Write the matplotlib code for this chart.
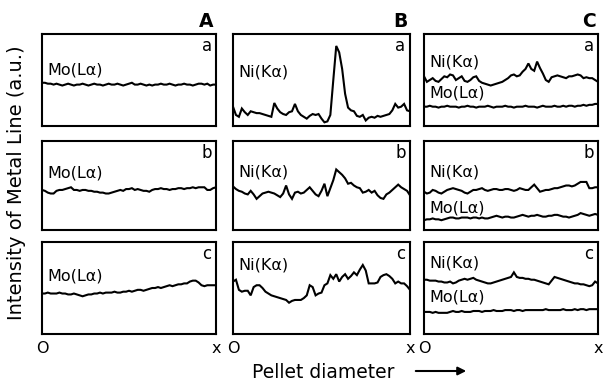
import numpy as np
import matplotlib
matplotlib.use("Agg")
import matplotlib.pyplot as plt

# ---------------------------------------------------------------------------
# Line-scan data (relative intensity, 0 = panel bottom, 1 = panel top)
# 61 samples across the pellet diameter, O -> x
# ---------------------------------------------------------------------------
n_pts = 61

a_a_mo = [0.47, 0.47, 0.46, 0.46, 0.45, 0.46, 0.45, 0.44, 0.45, 0.46,
          0.45, 0.44, 0.45, 0.45, 0.46, 0.45, 0.44, 0.45, 0.46, 0.45,
          0.45, 0.44, 0.45, 0.46, 0.45, 0.45, 0.46, 0.45, 0.44, 0.45,
          0.46, 0.47, 0.45, 0.45, 0.46, 0.45, 0.44, 0.45, 0.44, 0.45,
          0.45, 0.46, 0.45, 0.45, 0.46, 0.45, 0.44, 0.45, 0.45, 0.46,
          0.45, 0.45, 0.44, 0.45, 0.46, 0.46, 0.45, 0.46, 0.44, 0.45,
          0.45]

a_b_mo = [0.45, 0.44, 0.42, 0.41, 0.41, 0.44, 0.45, 0.45, 0.46, 0.47,
          0.48, 0.45, 0.45, 0.44, 0.45, 0.45, 0.44, 0.44, 0.43, 0.43,
          0.42, 0.42, 0.41, 0.41, 0.42, 0.43, 0.44, 0.45, 0.44, 0.46,
          0.46, 0.47, 0.45, 0.46, 0.45, 0.44, 0.44, 0.43, 0.45, 0.46,
          0.46, 0.47, 0.46, 0.46, 0.45, 0.46, 0.46, 0.47, 0.47, 0.46,
          0.47, 0.47, 0.48, 0.47, 0.48, 0.48, 0.48, 0.45, 0.45, 0.47,
          0.48]

a_c_mo = [0.44, 0.44, 0.45, 0.44, 0.44, 0.44, 0.45, 0.44, 0.44, 0.43,
          0.43, 0.44, 0.43, 0.42, 0.41, 0.42, 0.43, 0.43, 0.44, 0.44,
          0.45, 0.44, 0.45, 0.45, 0.45, 0.46, 0.45, 0.45, 0.46, 0.46,
          0.47, 0.46, 0.47, 0.48, 0.48, 0.47, 0.48, 0.49, 0.50, 0.50,
          0.51, 0.50, 0.51, 0.52, 0.53, 0.52, 0.53, 0.54, 0.54, 0.55,
          0.55, 0.57, 0.58, 0.58, 0.56, 0.53, 0.52, 0.53, 0.53, 0.53,
          0.53]

b_a_ni = [0.21, 0.12, 0.10, 0.19, 0.15, 0.12, 0.16, 0.15, 0.14, 0.14,
          0.13, 0.12, 0.11, 0.10, 0.25, 0.19, 0.15, 0.13, 0.12, 0.15,
          0.16, 0.24, 0.16, 0.12, 0.10, 0.08, 0.11, 0.13, 0.12, 0.13,
          0.08, 0.04, 0.05, 0.12, 0.50, 0.87, 0.80, 0.62, 0.35, 0.20,
          0.17, 0.16, 0.11, 0.10, 0.12, 0.06, 0.09, 0.10, 0.09, 0.11,
          0.10, 0.11, 0.12, 0.13, 0.17, 0.24, 0.20, 0.21, 0.24, 0.17,
          0.16]

b_b_ni = [0.49, 0.46, 0.44, 0.43, 0.41, 0.40, 0.44, 0.40, 0.35, 0.38,
          0.41, 0.42, 0.43, 0.42, 0.41, 0.39, 0.37, 0.41, 0.50, 0.40,
          0.35, 0.42, 0.43, 0.41, 0.42, 0.45, 0.48, 0.44, 0.40, 0.38,
          0.44, 0.52, 0.38, 0.47, 0.56, 0.68, 0.65, 0.62, 0.58, 0.52,
          0.53, 0.50, 0.48, 0.47, 0.42, 0.43, 0.45, 0.42, 0.44, 0.39,
          0.36, 0.35, 0.40, 0.42, 0.45, 0.48, 0.51, 0.48, 0.46, 0.44,
          0.39]

b_c_ni = [0.57, 0.59, 0.48, 0.46, 0.47, 0.47, 0.42, 0.51, 0.53, 0.53,
          0.50, 0.46, 0.44, 0.42, 0.41, 0.40, 0.39, 0.38, 0.37, 0.34,
          0.36, 0.37, 0.37, 0.37, 0.39, 0.42, 0.53, 0.51, 0.42, 0.44,
          0.45, 0.53, 0.55, 0.64, 0.60, 0.65, 0.57, 0.62, 0.65, 0.60,
          0.63, 0.67, 0.64, 0.70, 0.75, 0.69, 0.55, 0.55, 0.55, 0.56,
          0.62, 0.64, 0.65, 0.63, 0.60, 0.55, 0.57, 0.55, 0.55, 0.52,
          0.48]

c_a_ni = [0.54, 0.48, 0.50, 0.52, 0.49, 0.48, 0.51, 0.54, 0.53, 0.56,
          0.55, 0.50, 0.52, 0.54, 0.49, 0.48, 0.50, 0.53, 0.54, 0.49,
          0.47, 0.46, 0.45, 0.44, 0.45, 0.46, 0.47, 0.48, 0.50, 0.52,
          0.55, 0.56, 0.54, 0.55, 0.59, 0.62, 0.68, 0.62, 0.60, 0.70,
          0.63, 0.57, 0.50, 0.48, 0.53, 0.54, 0.55, 0.54, 0.53, 0.52,
          0.54, 0.54, 0.55, 0.56, 0.55, 0.52, 0.53, 0.52, 0.52, 0.50,
          0.48]

c_a_mo = [0.21, 0.21, 0.22, 0.21, 0.21, 0.20, 0.21, 0.21, 0.22, 0.21,
          0.21, 0.21, 0.20, 0.21, 0.21, 0.22, 0.21, 0.21, 0.20, 0.21,
          0.21, 0.21, 0.22, 0.21, 0.20, 0.21, 0.21, 0.21, 0.22, 0.21,
          0.21, 0.20, 0.21, 0.21, 0.21, 0.22, 0.21, 0.21, 0.21, 0.20,
          0.21, 0.22, 0.21, 0.21, 0.21, 0.22, 0.21, 0.21, 0.22, 0.21,
          0.22, 0.22, 0.21, 0.22, 0.22, 0.23, 0.22, 0.23, 0.23, 0.24,
          0.24]

c_b_ni = [0.43, 0.41, 0.42, 0.45, 0.44, 0.42, 0.41, 0.43, 0.45, 0.46,
          0.47, 0.46, 0.45, 0.44, 0.42, 0.41, 0.43, 0.45, 0.45, 0.46,
          0.47, 0.45, 0.44, 0.45, 0.46, 0.46, 0.45, 0.45, 0.46, 0.46,
          0.45, 0.44, 0.45, 0.47, 0.46, 0.45, 0.45, 0.48, 0.51, 0.47,
          0.43, 0.44, 0.45, 0.45, 0.46, 0.47, 0.47, 0.48, 0.49, 0.50,
          0.50, 0.49, 0.50, 0.52, 0.54, 0.54, 0.54, 0.47, 0.47, 0.48,
          0.48]

c_b_mo = [0.11, 0.12, 0.12, 0.13, 0.12, 0.12, 0.11, 0.12, 0.13, 0.14,
          0.14, 0.13, 0.13, 0.14, 0.14, 0.14, 0.13, 0.14, 0.14, 0.13,
          0.14, 0.13, 0.13, 0.14, 0.15, 0.16, 0.15, 0.14, 0.15, 0.15,
          0.14, 0.14, 0.15, 0.16, 0.17, 0.16, 0.15, 0.16, 0.16, 0.17,
          0.16, 0.15, 0.15, 0.16, 0.16, 0.17, 0.17, 0.16, 0.15, 0.15,
          0.14, 0.15, 0.16, 0.17, 0.19, 0.18, 0.17, 0.16, 0.17, 0.18,
          0.17]

c_c_ni = [0.59, 0.59, 0.58, 0.58, 0.58, 0.57, 0.57, 0.56, 0.56, 0.57,
          0.55, 0.56, 0.58, 0.59, 0.60, 0.59, 0.60, 0.61, 0.59, 0.58,
          0.57, 0.56, 0.55, 0.55, 0.56, 0.57, 0.58, 0.59, 0.60, 0.61,
          0.62, 0.67, 0.62, 0.61, 0.61, 0.60, 0.60, 0.59, 0.59, 0.58,
          0.57, 0.56, 0.55, 0.54, 0.58, 0.62, 0.61, 0.60, 0.59, 0.58,
          0.57, 0.56, 0.55, 0.55, 0.54, 0.54, 0.53, 0.52, 0.53, 0.57,
          0.55]

c_c_mo = [0.24, 0.24, 0.24, 0.23, 0.24, 0.23, 0.23, 0.23, 0.23, 0.24,
          0.25, 0.24, 0.24, 0.25, 0.24, 0.24, 0.24, 0.25, 0.25, 0.25,
          0.24, 0.25, 0.25, 0.25, 0.26, 0.25, 0.25, 0.25, 0.26, 0.26,
          0.26, 0.25, 0.26, 0.26, 0.25, 0.26, 0.26, 0.26, 0.26, 0.26,
          0.26, 0.26, 0.27, 0.26, 0.26, 0.26, 0.26, 0.26, 0.27, 0.26,
          0.26, 0.26, 0.27, 0.26, 0.27, 0.27, 0.26, 0.27, 0.27, 0.27,
          0.27]

col_names = ["A", "B", "C"]
row_names = ["a", "b", "c"]
x_tick_labels = ["O", "x"]

# per panel: list of (series, label, label_y) -- label_y in axes fraction
panels = {
    (0, 0): [(a_a_mo, "Mo(Lα)", 0.61)],
    (1, 0): [(a_b_mo, "Mo(Lα)", 0.64)],
    (2, 0): [(a_c_mo, "Mo(Lα)", 0.63)],
    (0, 1): [(b_a_ni, "Ni(Kα)", 0.59)],
    (1, 1): [(b_b_ni, "Ni(Kα)", 0.65)],
    (2, 1): [(b_c_ni, "Ni(Kα)", 0.75)],
    (0, 2): [(c_a_ni, "Ni(Kα)", 0.70), (c_a_mo, "Mo(Lα)", 0.36)],
    (1, 2): [(c_b_ni, "Ni(Kα)", 0.65), (c_b_mo, "Mo(Lα)", 0.25)],
    (2, 2): [(c_c_ni, "Ni(Kα)", 0.77), (c_c_mo, "Mo(Lα)", 0.40)],
}

# ---------------------------------------------------------------------------
# Layout (pixels on a 604x386 canvas)
# ---------------------------------------------------------------------------
W, H = 604, 386
col_left = [42, 233, 424]
col_width = [174, 177, 174]
row_top = [34, 141, 242]
row_bottom = [126, 230, 334]

fig = plt.figure(figsize=(W / 100, H / 100), dpi=100)
x = np.linspace(0, 1, n_pts)

for r in range(3):
    for c in range(3):
        rect = [col_left[c] / W, 1 - row_bottom[r] / H,
                col_width[c] / W, (row_bottom[r] - row_top[r]) / H]
        ax = fig.add_axes(rect)
        for series, label, ly in panels[(r, c)]:
            ax.plot(x, series, color="black", lw=1.5, solid_joinstyle="miter")
            ax.text(0.03, ly, label, transform=ax.transAxes, fontsize=11.5,
                    ha="left", va="center")
        ax.text(0.975, 0.87, row_names[r], transform=ax.transAxes,
                fontsize=12, ha="right", va="center")
        ax.set_xlim(0, 1)
        ax.set_ylim(0, 1)
        ax.set_yticks([])
        if r == 2:
            ax.set_xticks([0, 1])
            ax.set_xticklabels(x_tick_labels, fontsize=11.5)
            ax.tick_params(axis="x", length=0, pad=5)
        else:
            ax.set_xticks([])
        for sp in ax.spines.values():
            sp.set_linewidth(1.5)
        if r == 0:
            ax.text(0.985, 1.03, col_names[c], transform=ax.transAxes,
                    fontsize=13.5, fontweight="bold", ha="right", va="bottom",
                    family=["Liberation Sans Narrow", "DejaVu Sans"])

fig.text(17 / W, 1 - 183 / H, "Intensity of Metal Line (a.u.)", rotation=90,
         fontsize=14, ha="center", va="center")
fig.text(323 / W, 1 - 372 / H, "Pellet diameter", fontsize=13.5,
         ha="center", va="center")
fig.add_artist(matplotlib.patches.FancyArrowPatch(
    (413 / W, 1 - 371 / H), (469 / W, 1 - 371 / H),
    transform=fig.transFigure, arrowstyle="-|>", mutation_scale=12,
    color="black", lw=1.5))

fig.savefig("out.png", dpi=100)
